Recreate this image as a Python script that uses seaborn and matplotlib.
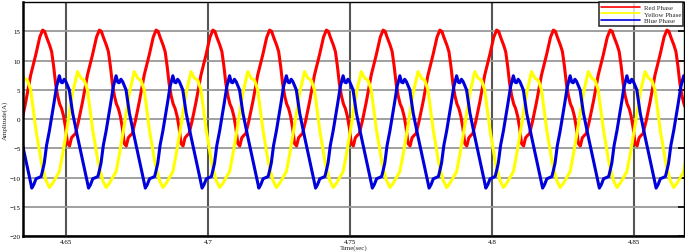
import numpy as np
import pandas as pd
import seaborn as sns
import matplotlib.pyplot as plt

# one cycle of each phase current
# time offsets are in ms from a red-phase peak, values in A
red_ms = [0, 0.7, 1.4, 2.5, 3.2, 3.9, 4.6, 5.3, 6.0, 6.7, 7.4, 8.1, 8.8, 9.5, 10.2, 10.9, 11.6, 12.7, 14.1, 15.8, 17.6, 19.0]
red_amp = [15.2, 15.0, 14.0, 12.6, 11.5, 9.0, 6.0, 4.0, 2.6, 1.8, 0.5, -1.5, -4.2, -4.6, -3.2, -2.8, -2.5, -0.3, 3.0, 7.5, 11.0, 14.0]

yellow_ms = [0, 1.2, 2.4, 3.5, 4.7, 5.9, 7.0, 8.8, 10.6, 12.3, 13.5, 14.7, 15.8, 17.7, 19.5]
yellow_amp = [-8.3, -10.5, -11.7, -11.0, -10.0, -9.0, -6.2, -1.0, 4.5, 8.1, 7.0, 6.6, 5.0, -2.0, -7.2]

blue_ms = [0, 0.6, 1.4, 2.4, 4.1, 4.9, 5.9, 6.5, 7.0, 7.6, 8.2, 9.4, 10.6, 12.3, 14.1, 15.5, 16.2, 16.9, 17.7, 18.7, 19.5]
blue_amp = [-8.8, -7.5, -4.5, -2.0, 3.0, 5.5, 7.4, 6.3, 6.2, 6.8, 6.4, 5.0, 1.0, -3.0, -7.0, -10.2, -11.8, -11.2, -10.2, -10.0, -9.8]

first_peak = 4.6217   # first red peak (s) before the window
period = 0.02         # 50 Hz
n_cycles = 13

phases = ['Red Phase', 'Yellow Phase', 'Blue Phase']
colors = ['#FF0000', '#FFFF00', '#0000DD']

x_ticks = [4.65, 4.7, 4.75, 4.8, 4.85]
x_tick_labels = ['4.65', '4.7', '4.75', '4.8', '4.85']
y_ticks = [-20, -15, -10, -5, 0, 5, 10, 15]


def build_trace(ms, amp, name):
    ms = np.asarray(ms) / 1000.0
    t = np.concatenate([first_peak + k * period + ms for k in range(n_cycles)])
    a = np.tile(amp, n_cycles)
    return pd.DataFrame({'time': t, 'amp': a, 'phase': name})


df = pd.concat([
    build_trace(red_ms, red_amp, phases[0]),
    build_trace(yellow_ms, yellow_amp, phases[1]),
    build_trace(blue_ms, blue_amp, phases[2]),
], ignore_index=True)

sns.set_style("white")
plt.rcParams['font.family'] = ['Liberation Serif', 'DejaVu Serif']

fig = plt.figure(figsize=(6.85, 2.53), dpi=100)
ax = fig.add_axes([0.034, 0.063, 0.964, 0.925])

sns.lineplot(data=df, x='time', y='amp', hue='phase', hue_order=phases,
             palette=colors, estimator=None, sort=False, linewidth=2.2, ax=ax)

ax.set_xlim(4.6349, 4.8676)
ax.set_ylim(-20, 20)
ax.set_xticks(x_ticks)
ax.set_xticklabels(x_tick_labels)
ax.set_yticks(y_ticks)
ax.tick_params(axis='both', labelsize=5, direction='in', length=4, width=1.2,
               pad=2, colors='black', right=True)

# darker vertical grid, lighter horizontal grid
ax.xaxis.grid(True, color='#555555', linewidth=1.5)
ax.yaxis.grid(True, color='#999999', linewidth=1.3)
ax.set_axisbelow(True)

for side in ['left', 'bottom']:
    ax.spines[side].set_linewidth(1.8)
    ax.spines[side].set_color('black')
for side in ['top', 'right']:
    ax.spines[side].set_linewidth(1.0)
    ax.spines[side].set_color('black')

ax.set_xlabel('Time(sec)', fontsize=5, labelpad=0)
ax.set_ylabel('Amplitude(A)', fontsize=5, labelpad=1)

leg = ax.legend(loc='upper right', fontsize=5, frameon=True, fancybox=False,
                borderpad=0.3, labelspacing=0.1, handlelength=5.5,
                handletextpad=0.6, borderaxespad=0.05)
leg.get_frame().set_edgecolor('black')
leg.get_frame().set_linewidth(1.2)
for line in leg.get_lines():
    line.set_linewidth(1.2)

fig.savefig('out.png', dpi=100)
